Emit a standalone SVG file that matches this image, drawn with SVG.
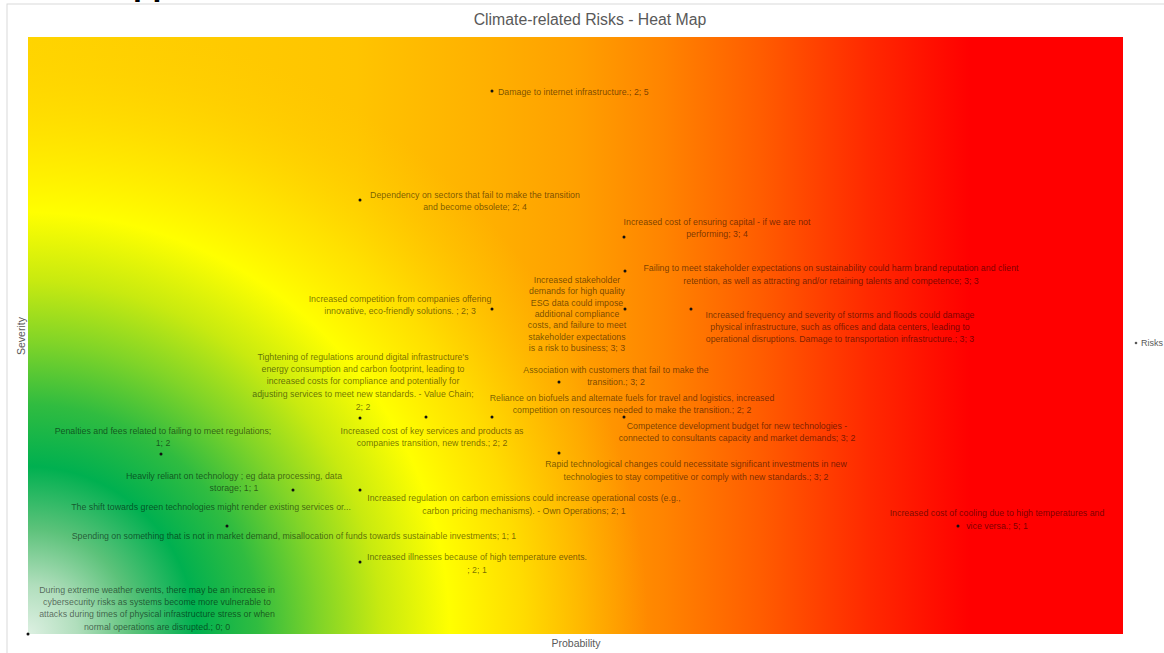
<svg xmlns="http://www.w3.org/2000/svg" width="1164" height="653" viewBox="0 0 1164 653">
<style>
.lbl{font-family:"Liberation Sans",Arial,sans-serif;font-size:8.8px;fill:#000;fill-opacity:0.55;text-anchor:middle}
.lbl.s{text-anchor:start}
.ax{font-family:"Liberation Sans",Arial,sans-serif;font-size:10.5px;fill:#595959;text-anchor:middle}
.leg{font-family:"Liberation Sans",Arial,sans-serif;font-size:9px;fill:#595959}
.ttl{font-family:"Liberation Sans",Arial,sans-serif;font-size:15.8px;fill:#595959;text-anchor:middle}
.dot{fill:#111}
</style>
<defs>
<linearGradient id="base" gradientUnits="userSpaceOnUse" x1="28" y1="0" x2="1123" y2="0">
<stop offset="0" stop-color="#FFD400"/>
<stop offset="0.3" stop-color="#FFC400"/>
<stop offset="0.42" stop-color="#FFB000"/>
<stop offset="0.5" stop-color="#FFA000"/>
<stop offset="0.58" stop-color="#FF8400"/>
<stop offset="0.67" stop-color="#FF5C00"/>
<stop offset="0.77" stop-color="#FF2800"/>
<stop offset="0.86" stop-color="#FF0000"/>
<stop offset="1" stop-color="#FF0000"/>
</linearGradient>
<radialGradient id="green" gradientUnits="userSpaceOnUse" cx="28" cy="634" r="620">
<stop offset="0" stop-color="#DDF0E2"/>
<stop offset="0.08" stop-color="#B0DEBC"/>
<stop offset="0.17" stop-color="#5CC27A"/>
<stop offset="0.27" stop-color="#00B050"/>
<stop offset="0.37" stop-color="#30BC40"/>
<stop offset="0.47" stop-color="#80D428"/>
<stop offset="0.57" stop-color="#C8EA10"/>
<stop offset="0.68" stop-color="#FFFF00"/>
<stop offset="0.8" stop-color="#FFE800" stop-opacity="0.8"/>
<stop offset="0.92" stop-color="#FFD800" stop-opacity="0.3"/>
<stop offset="1" stop-color="#FFD000" stop-opacity="0"/>
</radialGradient>
</defs>
<rect x="0" y="0" width="1164" height="653" fill="#fff"/>
<text x="133" y="-5" font-family="Liberation Sans,Arial,sans-serif" font-size="32" font-weight="bold" fill="#000">pp</text>
<rect x="7" y="4" width="1170" height="660" fill="#fff" stroke="#D9D9D9" stroke-width="1"/>
<text class="ttl" x="590" y="25">Climate-related Risks - Heat Map</text>
<g id="plot">
<rect x="28" y="37" width="1095" height="597" fill="url(#base)"/>
<rect x="28" y="37" width="1095" height="597" fill="url(#green)"/>
</g>
<g id="axes">
<text class="ax" transform="translate(25,336) rotate(-90)">Severity</text>
<text class="ax" x="576" y="647">Probability</text>
</g>
<g id="legend">
<circle cx="1136" cy="343" r="1.3" fill="#595959"/>
<text class="leg" x="1141" y="346">Risks</text>
</g>
<g id="connectors"></g>
<g id="r1"><circle class="dot" cx="492" cy="91" r="1.5"/><text class="lbl s" x="498" y="95">Damage to internet infrastructure.; 2; 5</text></g>
<g id="r2"><circle class="dot" cx="360" cy="200" r="1.5"/><text class="lbl" x="475" y="198">Dependency on sectors that fail to make the transition</text><text class="lbl" x="475" y="210">and become obsolete; 2; 4</text></g>
<g id="r3"><circle class="dot" cx="624" cy="237" r="1.5"/><text class="lbl" x="717" y="225">Increased cost of ensuring capital - if we are not</text><text class="lbl" x="717" y="237">performing; 3; 4</text></g>
<g id="r4"><circle class="dot" cx="625" cy="271" r="1.5"/><text class="lbl" x="831" y="271">Failing to meet stakeholder expectations on sustainability could harm brand reputation and client</text><text class="lbl" x="831" y="284">retention, as well as attracting and/or retaining talents and competence; 3; 3</text></g>
<g id="r5"><circle class="dot" cx="625" cy="309" r="1.5"/><text class="lbl" x="577" y="283">Increased stakeholder</text><text class="lbl" x="577" y="294.3">demands for high quality</text><text class="lbl" x="577" y="305.6">ESG data could impose</text><text class="lbl" x="577" y="317">additional compliance</text><text class="lbl" x="577" y="328.3">costs, and failure to meet</text><text class="lbl" x="577" y="339.6">stakeholder expectations</text><text class="lbl" x="577" y="351">is a risk to business; 3; 3</text></g>
<g id="r6"><circle class="dot" cx="492" cy="309" r="1.5"/><text class="lbl" x="400" y="302">Increased competition from companies offering</text><text class="lbl" x="400" y="314">innovative, eco-friendly solutions. ; 2; 3</text></g>
<g id="r7"><circle class="dot" cx="691" cy="309" r="1.5"/><text class="lbl" x="840" y="318">Increased frequency and severity of storms and floods could damage</text><text class="lbl" x="840" y="330">physical infrastructure, such as offices and data centers, leading to</text><text class="lbl" x="840" y="342">operational disruptions. Damage to transportation infrastructure.; 3; 3</text></g>
<g id="r8"><circle class="dot" cx="360" cy="418" r="1.5"/><text class="lbl" x="363" y="360">Tightening of regulations around digital infrastructure's</text><text class="lbl" x="363" y="372">energy consumption and carbon footprint, leading to</text><text class="lbl" x="363" y="384">increased costs for compliance and potentially for</text><text class="lbl" x="363" y="397">adjusting services to meet new standards. - Value Chain;</text><text class="lbl" x="363" y="410">2; 2</text></g>
<g id="r9"><circle class="dot" cx="559" cy="382" r="1.5"/><text class="lbl" x="616" y="373">Association with customers that fail to make the</text><text class="lbl" x="616" y="385">transition.; 3; 2</text></g>
<g id="r10"><circle class="dot" cx="492" cy="417" r="1.5"/><text class="lbl" x="632" y="401">Reliance on biofuels and alternate fuels for travel and logistics, increased</text><text class="lbl" x="632" y="413">competition on resources needed to make the transition.; 2; 2</text></g>
<g id="r11"><circle class="dot" cx="426" cy="417" r="1.5"/><text class="lbl" x="432" y="434">Increased cost of key services and products as</text><text class="lbl" x="432" y="446">companies transition, new trends.; 2; 2</text></g>
<g id="r12"><circle class="dot" cx="624" cy="417" r="1.5"/><text class="lbl" x="737" y="429">Competence development budget for new technologies -</text><text class="lbl" x="737" y="441">connected to consultants capacity and market demands; 3; 2</text></g>
<g id="r13"><circle class="dot" cx="161" cy="454" r="1.5"/><text class="lbl" x="163" y="434">Penalties and fees related to failing to meet regulations;</text><text class="lbl" x="163" y="446">1; 2</text></g>
<g id="r14"><circle class="dot" cx="559" cy="453" r="1.5"/><text class="lbl" x="696" y="467">Rapid technological changes could necessitate significant investments in new</text><text class="lbl" x="696" y="480">technologies to stay competitive or comply with new standards.; 3; 2</text></g>
<g id="r15"><circle class="dot" cx="293" cy="490" r="1.5"/><text class="lbl" x="234" y="479">Heavily reliant on technology ; eg data processing, data</text><text class="lbl" x="234" y="491">storage; 1; 1</text></g>
<g id="r16"><circle class="dot" cx="360" cy="490" r="1.5"/><text class="lbl" x="524" y="501">Increased regulation on carbon emissions could increase operational costs (e.g.,</text><text class="lbl" x="524" y="514">carbon pricing mechanisms). - Own Operations; 2; 1</text></g>
<g id="r17"><text class="lbl" x="211" y="510">The shift towards green technologies might render existing services or...</text></g>
<g id="r18"><circle class="dot" cx="227" cy="526" r="1.5"/><text class="lbl" x="294" y="539">Spending on something that is not in market demand, misallocation of funds towards sustainable investments; 1; 1</text></g>
<g id="r19"><circle class="dot" cx="360" cy="562" r="1.5"/><text class="lbl" x="477" y="560">Increased illnesses because of high temperature events.</text><text class="lbl" x="477" y="573">; 2; 1</text></g>
<g id="r20"><circle class="dot" cx="958" cy="526" r="1.5"/><text class="lbl" x="997" y="516">Increased cost of cooling due to high temperatures and</text><text class="lbl" x="997" y="529">vice versa.; 5; 1</text></g>
<g id="r21"><circle class="dot" cx="28" cy="634" r="1.5"/><text class="lbl" x="157" y="593">During extreme weather events, there may be an increase in</text><text class="lbl" x="157" y="605">cybersecurity risks as systems become more vulnerable to</text><text class="lbl" x="157" y="617">attacks during times of physical infrastructure stress or when</text><text class="lbl" x="157" y="630">normal operations are disrupted.; 0; 0</text></g>
</svg>
